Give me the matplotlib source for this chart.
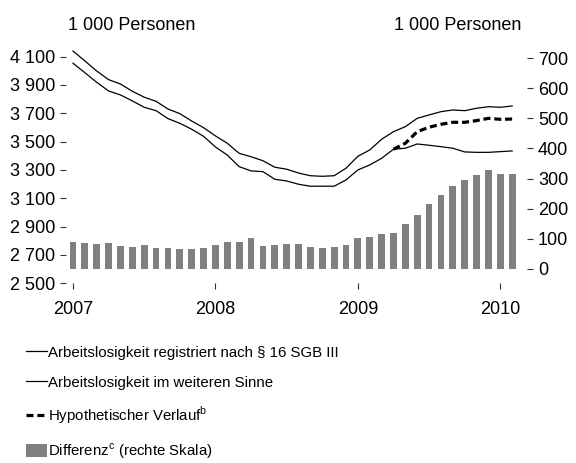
import numpy as np
import matplotlib
matplotlib.use("Agg")
import matplotlib.pyplot as plt
from matplotlib import font_manager
from matplotlib.lines import Line2D
from matplotlib.patches import Patch

# Monthly values, Jan 2007 - Feb 2010 (1 000 Personen, seasonally adjusted)
months = np.arange(38)
year_ticks = [0, 12, 24, 36]
year_labels = ["2007", "2008", "2009", "2010"]

registriert = [4053, 3986, 3918, 3857, 3829, 3787, 3742, 3718, 3662, 3629,
               3587, 3537, 3462, 3405, 3323, 3293, 3288, 3234, 3222, 3199,
               3185, 3185, 3185, 3229, 3300, 3335, 3382, 3446, 3453, 3483,
               3474, 3464, 3453, 3427, 3424, 3424, 3429, 3434]

weiter = [4139, 4069, 3998, 3937, 3906, 3855, 3813, 3784, 3730, 3697,
          3645, 3598, 3540, 3488, 3417, 3393, 3365, 3319, 3305, 3278,
          3259, 3255, 3259, 3312, 3396, 3441, 3516, 3570, 3605, 3664,
          3688, 3711, 3723, 3718, 3735, 3746, 3742, 3751]

hypo_months = np.arange(27, 38)
hypothetisch = [3446, 3488, 3570, 3601, 3622, 3636, 3636, 3648, 3664, 3657, 3659]

differenz = [89, 86, 83, 86, 76, 73, 79, 69, 69, 66, 66, 69, 79, 89, 89, 103,
             76, 79, 82, 82, 72, 68, 72, 78, 102, 105, 115, 118, 148, 178,
             215, 245, 275, 295, 312, 328, 315, 315]

left_ticks = [2500, 2700, 2900, 3100, 3300, 3500, 3700, 3900, 4100]
right_ticks = [0, 100, 200, 300, 400, 500, 600, 700]

names = {f.name for f in font_manager.fontManager.ttflist}
if "Liberation Sans Narrow" in names:
    legend_font, legend_size, legend_gap = "Liberation Sans Narrow", 13, 0.65
else:
    legend_font, legend_size, legend_gap = "Liberation Sans", 10.8, 1.0

plt.rcParams["font.family"] = ["Liberation Sans", "DejaVu Sans"]
plt.rcParams["font.size"] = 13
plt.rcParams["mathtext.fontset"] = "custom"
plt.rcParams["mathtext.rm"] = legend_font

W, H = 576, 463
fig = plt.figure(figsize=(W / 100, H / 100), dpi=100)

x0, x1 = 66, 527
y_top, y_bot = 45.2, 283.3
ax = fig.add_axes([x0 / W, 1 - y_bot / H, (x1 - x0) / W, (y_bot - y_top) / H])
ax2 = ax.twinx()

# bars on the right scale
ax2.bar(months, differenz, width=0.57, color="#808080", linewidth=0)
ax2.set_ylim(-49.3, 744.3)
ax2.set_yticks(right_ticks)

# lines on the left scale
ax.plot(months, weiter, color="black", lw=0.9)
ax.plot(months, registriert, color="black", lw=0.9)
ax.plot(hypo_months, hypothetisch, color="black", lw=2.3, dashes=(2.2, 1.2))
ax.set_ylim(2500, 4180)
ax.set_yticks(left_ticks)
ax.set_yticklabels([f"{v:,}".replace(",", " ") for v in left_ticks])
ax.set_xlim(-0.59, 38.25)
ax.set_xticks(year_ticks)
ax.set_xticklabels(year_labels)

ax.set_zorder(ax2.get_zorder() + 1)
ax.patch.set_visible(False)

for a in (ax, ax2):
    for s in a.spines.values():
        s.set_visible(False)

ax.tick_params(axis="y", length=4.5, width=0.8, pad=3.5, colors="#333333", labelcolor="black")
ax2.tick_params(axis="y", length=4.5, width=0.8, pad=3.5, colors="#333333", labelcolor="black")
ax.tick_params(axis="x", length=4, width=0.8, pad=8.5, colors="#333333", labelcolor="black")

fig.text(68 / W, 1 - 25 / H, "1 000 Personen", ha="left", va="center")
fig.text(521 / W, 1 - 25 / H, "1 000 Personen", ha="right", va="center")

handles = [
    Line2D([], [], color="black", lw=0.9),
    Line2D([], [], color="black", lw=0.9),
    Line2D([], [], color="black", lw=2.3, dashes=(2.2, 1.2)),
    Patch(facecolor="#808080", edgecolor="none"),
]
labels = [
    "Arbeitslosigkeit registriert nach § 16 SGB III",
    "Arbeitslosigkeit im weiteren Sinne",
    r"Hypothetischer Verlauf$^{\mathrm{b}}$",
    r"Differenz$^{\mathrm{c}}$ (rechte Skala)",
]
fig.legend(handles, labels, loc="upper left", bbox_to_anchor=(26 / W, 1 - 345 / H),
           frameon=False, prop={"family": legend_font, "size": legend_size},
           handlelength=1.4, handleheight=1.0, handletextpad=0.1,
           labelspacing=legend_gap, borderpad=0, borderaxespad=0)

fig.savefig("out.png", dpi=100)
